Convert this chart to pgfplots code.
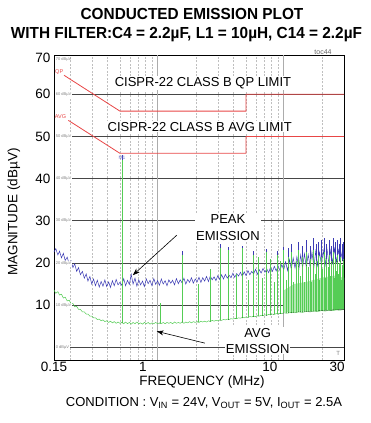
\documentclass[border=0pt]{standalone}
\usepackage{fontspec}
\setmainfont{Liberation Sans}
\newfontfamily\condfont{Liberation Sans}[FakeStretch=0.96]
\usepackage{pgfplots}
\pgfplotsset{compat=1.18}
\usepackage{pgfplotstable}
\usetikzlibrary{arrows.meta}
\definecolor{pkblue}{RGB}{60,60,180}
\definecolor{avggreen}{RGB}{85,205,85}
\definecolor{limred}{RGB}{232,70,70}
\definecolor{gridd}{RGB}{70,70,70}

\pgfplotstableread{
f v
0.150 22.6
0.155 23.4
0.161 21.9
0.166 22.8
0.172 21.2
0.178 22.3
0.184 20.6
0.191 21.4
0.198 19.7
0.205 20.5
0.212 18.9
0.219 19.8
0.227 18.0
0.235 18.9
0.243 17.2
0.252 18.0
0.261 16.4
0.270 17.4
0.279 15.7
0.289 16.8
0.299 15.0
0.309 16.2
0.320 14.6
0.331 15.9
0.343 14.3
0.355 15.6
0.367 14.5
0.380 16.0
0.393 14.4
0.407 15.5
0.421 14.2
0.436 15.8
0.451 14.6
0.467 16.1
0.483 14.8
0.500 15.4
0.518 14.7
0.536 16.3
0.555 14.6
0.574 15.9
0.594 14.9
0.615 17.3
0.636 15.0
0.659 16.4
0.682 14.5
0.706 16.0
0.730 14.8
0.756 15.7
0.782 14.4
0.810 16.2
0.838 15.1
0.867 15.9
0.898 14.6
0.929 16.3
0.962 14.9
0.995 15.8
1.030 14.7
1.066 16.2
1.103 15.0
1.142 15.8
1.182 14.6
1.223 16.0
1.266 15.2
1.310 15.9
1.356 14.8
1.404 16.3
1.453 15.1
1.504 16.0
1.556 15.3
1.611 16.4
1.667 15.0
1.726 16.1
1.786 15.4
1.849 16.5
1.913 15.2
1.980 16.2
2.050 15.5
2.121 16.6
2.196 15.4
2.272 16.5
2.352 15.7
2.434 16.8
2.520 15.6
2.608 16.9
2.699 16.0
2.794 16.7
2.891 15.8
2.992 17.0
3.097 16.1
3.206 17.2
3.318 16.2
3.434 17.3
3.554 16.4
3.679 17.1
3.807 16.5
3.941 17.6
4.078 16.6
4.221 17.5
4.369 16.9
4.522 17.8
4.680 16.8
4.844 17.9
5.013 17.0
5.189 18.2
5.370 17.2
5.558 18.0
5.753 17.4
5.954 18.5
6.163 17.3
6.378 18.4
6.601 17.6
6.833 18.7
7.072 17.8
7.319 18.6
7.575 17.7
7.840 19.0
8.115 18.0
8.399 19.2
8.693 18.1
8.997 19.3
9.312 18.2
9.638 19.6
9.975 18.4
10.32 20.3
10.69 18.2
11.06 20.8
11.45 18.6
11.85 21.2
12.26 18.8
12.69 21.5
13.14 18.5
13.60 21.9
14.07 18.9
14.56 22.2
15.07 19.0
15.60 22.0
16.15 19.2
16.71 22.6
17.30 19.0
17.90 22.8
18.53 19.4
19.18 22.5
19.85 19.6
20.54 23.0
21.26 19.5
22.01 23.2
22.78 19.8
23.57 23.0
24.40 20.0
25.25 23.4
26.14 20.2
27.05 23.1
28.00 20.4
28.98 22.6
30.00 20.8
}\peaktrace

\pgfplotstableread{
f b h
0.52 15.0 30.5
1.56 15.5 7.3
3.12 16.6 7.9
3.64 16.8 7.0
4.68 17.2 6.8
5.72 17.6 5.2
7.28 18.0 5.2
8.84 18.4 4.4
9.88 18.6 5.2
10.92 19.0 4.5
11.44 19.0 5.5
13.00 19.2 5.8
14.04 19.3 4.7
15.08 19.4 6.1
16.12 19.5 4.5
17.16 19.6 6.4
18.20 19.7 4.8
18.72 19.7 5.3
19.76 19.8 5.7
20.80 19.9 6.1
21.84 20.0 4.5
22.88 20.0 5.5
23.92 20.1 3.9
24.44 20.1 5.9
25.48 20.2 4.8
26.52 20.3 5.2
27.56 20.4 4.1
28.08 20.4 5.6
29.12 20.5 4.0
29.64 20.5 4.5
}\peakspikes

\pgfplotstableread{
f v
0.150 13.6
0.155 12.8
0.161 13.2
0.166 12.4
0.172 12.6
0.178 11.7
0.184 11.9
0.191 11.0
0.198 11.2
0.205 10.3
0.212 10.4
0.219 9.6
0.227 9.7
0.235 9.0
0.243 9.0
0.252 8.4
0.261 8.4
0.270 7.9
0.279 7.9
0.289 7.4
0.299 7.4
0.309 7.0
0.320 7.0
0.331 6.6
0.343 6.7
0.355 6.3
0.367 6.5
0.380 6.1
0.393 6.3
0.407 5.9
0.421 6.2
0.436 5.8
0.451 6.1
0.467 5.7
0.483 6.0
0.500 5.7
0.518 5.9
0.536 5.6
0.555 6.0
0.574 5.6
0.594 5.9
0.615 5.5
0.636 5.9
0.659 5.6
0.682 6.0
0.706 5.6
0.730 5.8
0.756 5.5
0.782 5.9
0.810 5.6
0.838 5.9
0.867 5.5
0.898 5.8
0.929 5.6
0.962 5.9
0.995 5.6
1.030 5.8
1.066 5.6
1.103 5.9
1.142 5.6
1.182 5.9
1.223 5.7
1.266 5.9
1.310 5.6
1.356 6.0
1.404 5.7
1.453 5.9
1.504 5.7
1.556 6.0
1.611 5.7
1.667 6.0
1.726 5.8
1.786 6.1
1.849 5.8
1.913 6.1
1.980 5.9
2.050 6.1
2.121 5.9
2.196 6.2
2.272 6.0
2.352 6.2
2.434 6.0
2.520 6.3
2.608 6.1
2.699 6.4
2.794 6.2
2.891 6.4
2.992 6.3
3.097 6.5
3.206 6.4
3.318 6.6
3.434 6.5
3.554 6.7
3.679 6.6
3.807 6.8
3.941 6.7
4.078 6.9
4.221 6.8
4.369 7.0
4.522 6.9
4.680 7.1
4.844 7.0
5.013 7.2
5.189 7.1
5.370 7.3
5.558 7.2
5.753 7.4
5.954 7.3
6.163 7.5
6.378 7.4
6.601 7.6
6.833 7.5
7.072 7.7
7.319 7.6
7.575 7.8
7.840 7.7
8.115 7.9
8.399 7.8
8.693 8.0
8.997 7.9
9.312 8.1
9.638 8.0
9.975 8.2
10.69 8.1
11.45 8.3
12.26 8.2
13.14 8.4
14.07 8.3
15.07 8.5
16.15 8.4
17.30 8.6
18.53 8.5
19.85 8.7
21.26 8.6
22.78 8.8
24.40 8.7
26.14 8.9
28.00 8.8
30.00 9.0
}\avgtrace

\pgfplotstableread{
f b h
0.52 5.8 38.7
1.04 5.7 4.8
1.56 6.0 16.0
2.08 6.0 9.0
2.60 6.2 12.3
3.12 6.4 17.1
3.64 6.6 16.4
4.16 6.8 10.7
4.68 7.0 16.5
5.20 7.1 8.9
5.72 7.3 14.7
6.24 7.4 14.1
6.76 7.5 9.0
7.28 7.6 14.9
7.80 7.7 13.3
8.32 7.8 7.7
8.84 7.9 14.1
9.36 8.0 12.5
9.88 8.1 14.9
10.40 8.1 7.9
10.92 8.2 13.3
11.44 8.2 14.3
11.96 8.3 7.2
12.48 8.3 12.2
13.00 8.4 14.6
13.52 8.4 8.6
14.04 8.4 13.1
14.56 8.5 7.0
15.08 8.5 14.0
15.60 8.5 10.5
16.12 8.5 12.5
16.64 8.6 6.9
17.16 8.6 14.4
17.68 8.6 8.9
18.20 8.6 11.9
18.72 8.7 13.3
19.24 8.7 7.3
19.76 8.7 12.8
20.28 8.7 9.8
20.80 8.7 13.8
21.32 8.8 7.7
21.84 8.8 12.2
22.36 8.8 10.2
22.88 8.8 13.2
23.40 8.8 8.2
23.92 8.8 11.7
24.44 8.9 13.6
24.96 8.9 7.6
25.48 8.9 12.1
26.00 8.9 9.1
26.52 8.9 13.1
27.04 8.9 8.6
27.56 9.0 11.0
28.08 9.0 12.5
28.60 9.0 7.0
29.12 9.0 10.5
29.64 9.0 12.0
}\avgspikes

\begin{document}
\begin{tikzpicture}
\path[use as bounding box] (-54pt,-63pt) rectangle (317pt,360pt);
\begin{axis}[
  at={(0,0)}, anchor=south west,
  scale only axis, width=290pt, height=305pt,
  xmode=log, xmin=0.15, xmax=30, ymin=-3, ymax=69.3,
  axis line style={black, line width=0.9pt},
  major tick length=0pt, minor tick length=0pt,
  xtick={0.2,0.3,0.4,0.5,0.6,0.7,0.8,0.9,2,3,4,5,6,7,8,9,20},
  xticklabels={},
  xmajorgrids=true,
  major x grid style={gray!50, dash pattern=on 2pt off 1.5pt, line width=0.45pt},
  extra x ticks={0.15,0.76,7.75,26.5}, extra x tick labels={0.15,1,10,30},
  extra x tick style={grid=none},
  ytick={0,10,20,30,40,50,60}, yticklabels={,10,20,30,40,50,60},
  ymajorgrids=true,
  major y grid style={gridd, line width=0.6pt},
  extra y ticks={68.6}, extra y tick labels={70},
  extra y tick style={grid=none},
  ticklabel style={font=\fontsize{13.5}{14}\selectfont},
  xticklabel style={yshift=1pt},
]
% solid decade lines at 1 and 10 MHz
\draw[gray!65, line width=0.9pt] (axis cs:1,-3) -- (axis cs:1,69.3);
\draw[gray!65, line width=0.9pt] (axis cs:10,-3) -- (axis cs:10,69.3);
\addplot[pkblue, line width=0.5pt] table[x=f,y=v]{\peaktrace};
\addplot[only marks, mark=*, mark size=0.01pt, mark options={draw=none, fill=none},
  error bars/.cd, y dir=plus, y explicit, error mark=none,
  error bar style={pkblue, line width=0.5pt}]
  table[x=f, y=b, y error plus=h]{\peakspikes};
\addplot[fill=avggreen!45, draw=none] coordinates {(10,8.3)(15,8.5)(20,8.7)(30,9.0)(30,16.5)(25,17)(20,16.5)(15,15.5)(12,15)(10,13.5)};
\addplot[avggreen, line width=0.5pt] table[x=f,y=v]{\avgtrace};
\addplot[only marks, mark=*, mark size=0.01pt, mark options={draw=none, fill=none},
  error bars/.cd, y dir=plus, y explicit, error mark=none,
  error bar style={avggreen, line width=0.5pt}]
  table[x=f, y=b, y error plus=h]{\avgspikes};
% CISPR-22 class B limits
\addplot[limred, line width=0.8pt] coordinates {(0.18,64.5)(0.5,56)(5,56)(5,60)(30,60)};
\addplot[limred, line width=0.8pt] coordinates {(0.195,53.8)(0.5,46)(5,46)(5,50)(30,50)};
% small screen labels
\node[font=\fontsize{4}{4}\selectfont, text=gray, fill=white, inner sep=0.6pt, anchor=west] at (axis cs:0.153,0) {0 dBµV};
\node[font=\fontsize{4}{4}\selectfont, text=gray, fill=white, inner sep=0.6pt, anchor=west] at (axis cs:0.153,10) {10 dBµV};
\node[font=\fontsize{4}{4}\selectfont, text=gray, fill=white, inner sep=0.6pt, anchor=west] at (axis cs:0.153,20) {20 dBµV};
\node[font=\fontsize{4}{4}\selectfont, text=gray, fill=white, inner sep=0.6pt, anchor=west] at (axis cs:0.153,30) {30 dBµV};
\node[font=\fontsize{4}{4}\selectfont, text=gray, fill=white, inner sep=0.6pt, anchor=west] at (axis cs:0.153,40) {40 dBµV};
\node[font=\fontsize{4}{4}\selectfont, text=gray, fill=white, inner sep=0.6pt, anchor=west] at (axis cs:0.153,50) {50 dBµV};
\node[font=\fontsize{4}{4}\selectfont, text=gray, fill=white, inner sep=0.6pt, anchor=west] at (axis cs:0.153,60) {60 dBµV};
\node[font=\fontsize{4}{4}\selectfont, text=gray, inner sep=0.6pt, anchor=west] at (axis cs:0.153,68.3) {70 dBµV};
\node[font=\fontsize{5.5}{5.5}\selectfont, text=limred, inner sep=0.3pt, anchor=west] at (axis cs:0.152,65.2) {QP};
\node[font=\fontsize{5.5}{5.5}\selectfont, text=limred, inner sep=0.3pt, anchor=west] at (axis cs:0.151,54.6) {AVG};
\node[font=\fontsize{5}{5}\selectfont, text=pkblue!70, inner sep=0.3pt, anchor=south] at (axis cs:0.52,44.3) {M1};
\node[font=\fontsize{6}{6}\selectfont, text=gray, inner sep=0.3pt] at (axis cs:27,-1.5) {T};
% annotations
\node[font=\fontsize{13}{13}\selectfont, fill=white, inner sep=1pt] at (axis cs:2.28,62.7) {CISPR-22 CLASS B QP LIMIT};
\node[font=\fontsize{13}{13}\selectfont, fill=white, inner sep=1pt] at (axis cs:2.15,52.3) {CISPR-22 CLASS B AVG LIMIT};
\node[font=\fontsize{13}{17}\selectfont, fill=white, inner sep=1pt, align=center] at (axis cs:3.6,28.4) {PEAK\\EMISSION};
\node[font=\fontsize{13}{16}\selectfont, fill=white, inner sep=1pt, align=center] at (axis cs:6.2,1.6) {AVG\\EMISSION};
\draw[-{Stealth[length=7pt,width=5pt]}, line width=0.6pt] (axis cs:1.415,26.6) -- (axis cs:0.633,17.1);
\draw[-{Stealth[length=7pt,width=5pt]}, line width=0.6pt] (axis cs:2.36,1.0) -- (axis cs:0.98,3.8);
\end{axis}
\node[font=\condfont\bfseries\fontsize{16}{16}\selectfont] at (138pt,346pt) {CONDUCTED EMISSION PLOT};
\node[font=\condfont\bfseries\fontsize{16}{16}\selectfont] at (132.5pt,325pt) {WITH FILTER:C4 = 2.2µF, L1 = 10µH, C14 = 2.2µF};
\node[font=\fontsize{7}{7}\selectfont, text=gray!80!black, inner sep=0.5pt] at (269pt,308pt) {toc44};
\node[font=\fontsize{13.5}{14}\selectfont, rotate=90] at (-40pt,148pt) {MAGNITUDE (dBµV)};
\node[font=\fontsize{13.5}{14}\selectfont] at (148pt,-22pt) {FREQUENCY (MHz)};
\node[font=\fontsize{13}{14}\selectfont] at (150pt,-43pt) {CONDITION : V\textsubscript{IN} = 24V, V\textsubscript{OUT} = 5V, I\textsubscript{OUT} = 2.5A};
\end{tikzpicture}
\end{document}
